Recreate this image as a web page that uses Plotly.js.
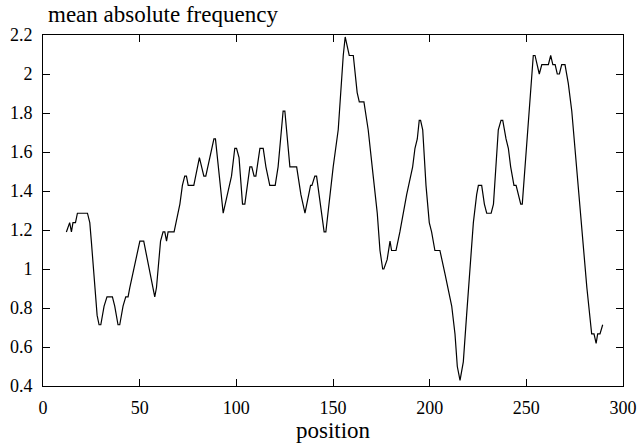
<!DOCTYPE html>
<html>
<head>
<meta charset="utf-8">
<script src="https://cdn.plot.ly/plotly-3.0.1.min.js"></script>
<style>
html,body{margin:0;padding:0;background:#fff;}
#chart{width:640px;height:443px;}
#chart svg text{font-family:'Liberation Serif','Times New Roman',serif !important;}
</style>
</head>
<body>
<div id="chart"></div>
<script>
// Vertices of the curve (position, mean absolute frequency)
const positions = [
  12.1, 13.8, 14.7, 15.5, 16.8, 17.8, 23.0, 24.2, 25.0, 26.8, 28.0, 29.0, 29.9, 31.6, 33.1, 35.9, 37.1, 38.8, 39.7, 41.4,
  42.8, 44.0, 44.9, 50.1, 52.1, 57.8, 58.7, 60.8, 62.1, 63.0, 63.9, 64.7, 67.8, 70.8, 72.1, 73.3, 74.2, 75.1, 78.0, 80.9,
  83.2, 84.2, 88.4, 89.2, 90.6, 93.2, 97.5, 99.2, 100.1, 101.4, 103.2, 104.4, 107.0, 108.0, 109.2, 110.1, 112.2, 113.9, 115.3, 117.3,
  120.1, 121.6, 124.2, 125.1, 127.7, 131.2, 133.4, 135.5, 138.4, 139.1, 140.6, 141.5, 145.4, 146.3, 150.1, 152.7, 155.3, 156.3,
  158.4, 160.5, 162.5, 163.6, 166.0, 168.2, 170.8, 172.9, 174.3, 175.7, 176.3, 178.0, 179.5, 180.3, 182.6, 184.6, 188.1, 191.2,
  192.4, 193.6, 194.6, 195.3, 196.4, 198.1, 199.8, 201.0, 202.7, 205.3, 207.9, 211.4, 213.1, 214.3, 215.7, 217.4, 219.1, 220.8,
  222.6, 224.3, 225.2, 226.9, 228.3, 229.5, 231.8,
  233.0, 235.5, 236.9, 237.8, 239.5, 240.7, 241.9, 243.6, 244.7, 247.1, 247.9, 249.9, 251.9, 253.6, 254.5, 256.7, 258.0, 261.4,
  262.6, 263.7, 264.9, 266.0, 267.1, 268.3, 270.0, 271.7, 273.5, 276.1, 278.7, 281.3, 283.8, 285.0, 286.1, 286.9, 288.1, 289.5
];
const meanAbsFreq = [
  1.190, 1.238, 1.190, 1.238, 1.238, 1.286, 1.286, 1.238, 1.143, 0.905, 0.762, 0.714, 0.714, 0.810, 0.857, 0.857, 0.810, 0.714, 0.714, 0.810,
  0.857, 0.857, 0.905, 1.143, 1.143, 0.857, 0.905, 1.143, 1.190, 1.190, 1.143, 1.190, 1.190, 1.333, 1.429, 1.476, 1.476, 1.429, 1.429, 1.571,
  1.476, 1.476, 1.667, 1.667, 1.524, 1.286, 1.476, 1.619, 1.619, 1.571, 1.333, 1.333, 1.524, 1.524, 1.476, 1.476, 1.619, 1.619, 1.524, 1.429,
  1.429, 1.524, 1.810, 1.810, 1.524, 1.524, 1.381, 1.286, 1.429, 1.429, 1.476, 1.476, 1.190, 1.190, 1.524, 1.714, 2.095, 2.190,
  2.095, 2.095, 1.905, 1.857, 1.857, 1.714, 1.476, 1.286, 1.095, 1.000, 1.000, 1.048, 1.143, 1.095, 1.095, 1.190, 1.381, 1.524,
  1.619, 1.667, 1.762, 1.762, 1.714, 1.429, 1.238, 1.190, 1.095, 1.095, 0.976, 0.810, 0.667, 0.500, 0.429, 0.524, 0.762, 1.000,
  1.238, 1.381, 1.429, 1.429, 1.333, 1.286, 1.286,
  1.333, 1.714, 1.762, 1.762, 1.667, 1.619, 1.524, 1.429, 1.429, 1.333, 1.333, 1.619, 1.905, 2.095, 2.095, 2.000, 2.048, 2.048,
  2.095, 2.048, 2.048, 2.000, 2.000, 2.048, 2.048, 1.952, 1.810, 1.500, 1.190, 0.905, 0.667, 0.667, 0.619, 0.667, 0.667, 0.714
];

const xTickVals = [0, 50, 100, 150, 200, 250, 300];
const xTickText = ['0', '50', '100', '150', '200', '250', '300'];
const yTickVals = [0.4, 0.6, 0.8, 1.0, 1.2, 1.4, 1.6, 1.8, 2.0, 2.2];
const yTickText = ['0.4', '0.6', '0.8', '1', '1.2', '1.4', '1.6', '1.8', '2', '2.2'];
const xTitle = 'position';
const yTitle = 'mean absolute frequency';

const FONT = 'Liberation Serif';

const trace = {
  x: positions,
  y: meanAbsFreq,
  type: 'scatter',
  mode: 'lines',
  line: {color: '#000000', width: 1.2},
  hoverinfo: 'x+y'
};

const axisCommon = {
  showgrid: false,
  zeroline: false,
  showline: true,
  linecolor: '#000000',
  linewidth: 1,
  mirror: 'ticks',
  ticks: 'inside',
  ticklen: 7,
  tickwidth: 1,
  tickcolor: '#000000',
  tickfont: {family: FONT, size: 18, color: '#000000'},
  tickmode: 'array'
};

const layout = {
  width: 640,
  height: 443,
  margin: {l: 43, r: 17, t: 35, b: 57},
  paper_bgcolor: '#ffffff',
  plot_bgcolor: '#ffffff',
  showlegend: false,
  font: {family: FONT, color: '#000000', size: 18},
  xaxis: Object.assign({}, axisCommon, {
    range: [0, 300],
    tickvals: xTickVals,
    ticktext: xTickText,
    ticklabelstandoff: 5,
    automargin: false,
    title: {text: xTitle, font: {family: FONT, size: 23, color: '#000000'}, standoff: 2}
  }),
  yaxis: Object.assign({}, axisCommon, {
    range: [0.4, 2.2],
    tickvals: yTickVals,
    ticktext: yTickText,
    ticklabelstandoff: 6,
    automargin: false
  }),
  annotations: [{
    text: yTitle,
    xref: 'paper', yref: 'paper',
    x: 0.006, y: 1.0587,
    xanchor: 'left', yanchor: 'middle',
    showarrow: false,
    font: {family: FONT, size: 23, color: '#000000'}
  }]
};

Plotly.newPlot('chart', [trace], layout, {displayModeBar: false, staticPlot: true});
</script>
</body>
</html>
